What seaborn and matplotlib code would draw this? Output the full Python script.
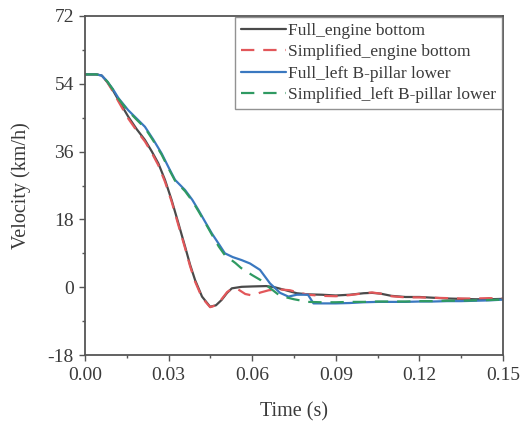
import numpy as np
import pandas as pd
import matplotlib
matplotlib.use("Agg")
import matplotlib.pyplot as plt
from matplotlib.ticker import MultipleLocator, FormatStrFormatter
import seaborn as sns

# Velocity histories (km/h) against time (s)
t_full_engine = [0, 0.004, 0.006, 0.008, 0.010, 0.012, 0.0155, 0.0185, 0.0215, 0.024,
                 0.0263, 0.0287, 0.0311, 0.0335, 0.0359, 0.0377, 0.0395, 0.042, 0.0449,
                 0.047, 0.049, 0.051, 0.0527, 0.0562, 0.060, 0.065, 0.068, 0.072, 0.076,
                 0.080, 0.085, 0.090, 0.095, 0.100, 0.103, 0.106, 0.110, 0.115, 0.120,
                 0.125, 0.130, 0.135, 0.140, 0.145, 0.150]
v_full_engine = [56.5, 56.5, 56.2, 54.5, 52.3, 49.7, 45.3, 42.0, 39.1, 36.0,
                 32.9, 28.5, 23.1, 17.0, 10.8, 6.0, 1.9, -2.5, -5.2,
                 -4.8, -3.4, -1.5, -0.3, 0.1, 0.2, 0.3, 0.0, -0.8, -1.6,
                 -1.9, -2.0, -2.2, -2.0, -1.6, -1.5, -1.7, -2.3, -2.6, -2.6,
                 -2.8, -3.0, -3.1, -3.2, -3.2, -3.1]

t_simp_engine = [0, 0.004, 0.006, 0.008, 0.010, 0.012, 0.0155, 0.0185, 0.0215, 0.024,
                 0.0263, 0.0287, 0.0311, 0.0335, 0.0359, 0.0377, 0.0395, 0.042, 0.0449,
                 0.047, 0.049, 0.051, 0.0527, 0.055, 0.0575, 0.060, 0.063, 0.066, 0.070,
                 0.0735, 0.077, 0.080, 0.085, 0.090, 0.095, 0.100, 0.103, 0.106, 0.110,
                 0.115, 0.120, 0.125, 0.130, 0.135, 0.140, 0.145, 0.150]
v_simp_engine = [56.5, 56.5, 56.2, 54.4, 52.0, 49.3, 44.8, 41.6, 38.7, 35.6,
                 32.4, 28.0, 22.7, 16.5, 10.4, 5.6, 1.5, -2.8, -5.3,
                 -4.8, -3.2, -1.3, -0.4, -0.6, -1.8, -2.2, -1.4, -0.8, -0.6,
                 -0.8, -1.5, -2.0, -2.3, -2.4, -2.1, -1.6, -1.4, -1.7, -2.4,
                 -2.7, -2.7, -2.8, -2.9, -3.0, -3.0, -2.9, -3.0]

t_full_pillar = [0, 0.004, 0.006, 0.008, 0.010, 0.012, 0.0155, 0.0185, 0.0215, 0.0245,
                 0.0275, 0.030, 0.0323, 0.0359, 0.0385, 0.0407, 0.043, 0.0455, 0.048,
                 0.0502, 0.053, 0.0562, 0.0592, 0.0628, 0.0664, 0.070, 0.073, 0.076,
                 0.080, 0.082, 0.085, 0.090, 0.095, 0.100, 0.105, 0.110, 0.115, 0.120,
                 0.125, 0.130, 0.135, 0.140, 0.145, 0.150]
v_full_pillar = [56.5, 56.5, 56.2, 54.6, 52.6, 50.2, 47.0, 44.8, 42.6, 39.2,
                 35.5, 31.8, 28.5, 25.8, 23.2, 20.5, 17.5, 14.3, 11.5,
                 9.0, 8.0, 7.2, 6.3, 4.6, 1.0, -1.5, -2.5, -2.0,
                 -2.0, -4.3, -4.3, -4.3, -4.2, -4.0, -3.9, -3.9, -3.9, -3.8,
                 -3.8, -3.7, -3.7, -3.6, -3.5, -3.3]

t_simp_pillar = [0, 0.004, 0.006, 0.008, 0.010, 0.012, 0.0155, 0.0185, 0.0215, 0.0245,
                 0.0275, 0.030, 0.0323, 0.0359, 0.0385, 0.0407, 0.043, 0.0455, 0.048,
                 0.0502, 0.054, 0.056, 0.060, 0.063, 0.066, 0.070, 0.075, 0.080,
                 0.085, 0.090, 0.095, 0.100, 0.105, 0.110, 0.115, 0.120, 0.125,
                 0.130, 0.135, 0.140, 0.145, 0.150]
v_simp_pillar = [56.5, 56.5, 56.2, 54.6, 52.5, 50.0, 46.8, 44.5, 42.3, 38.9,
                 35.2, 31.5, 28.3, 25.5, 22.9, 20.2, 17.3, 14.0, 10.8,
                 8.5, 6.4, 5.1, 3.2, 1.9, 0.0, -2.3, -3.2, -3.9,
                 -4.0, -4.0, -3.9, -3.9, -3.8, -3.8, -3.8, -3.7, -3.7,
                 -3.6, -3.6, -3.5, -3.4, -3.3]

labels = ["Full_engine bottom", "Simplified_engine bottom",
          "Full_left B-pillar lower", "Simplified_left B-pillar lower"]

x_ticks = [0.00, 0.03, 0.06, 0.09, 0.12, 0.15]
y_ticks = [-18, 0, 18, 36, 54, 72]

sns.set_style("ticks")
plt.rcParams["font.family"] = ["Liberation Serif", "DejaVu Serif"]
plt.rcParams["axes.unicode_minus"] = False
plt.rcParams["axes.edgecolor"] = "#555555"
plt.rcParams["xtick.color"] = "#555555"
plt.rcParams["ytick.color"] = "#555555"
plt.rcParams["xtick.labelcolor"] = "#3a3a3a"
plt.rcParams["ytick.labelcolor"] = "#3a3a3a"

fig = plt.figure(figsize=(5.23, 4.21), dpi=100)
ax = fig.add_axes([85 / 523, 1 - 355 / 421, 418 / 523, 339 / 421])

series = [
    (t_full_engine, v_full_engine, "#4a4a4a", "-"),
    (t_simp_engine, v_simp_engine, "#e2575a", (0, (6, 4))),
    (t_full_pillar, v_full_pillar, "#3a78c0", "-"),
    (t_simp_pillar, v_simp_pillar, "#2f9a62", (0, (6, 4))),
]
for (t, v, c, ls), lab in zip(series, labels):
    df = pd.DataFrame({"t": t, "v": v})
    sns.lineplot(data=df, x="t", y="v", ax=ax, color=c, linewidth=1.6,
                 linestyle=ls, label=lab, estimator=None, sort=False)

ax.set_xlim(0, 0.15)
ax.set_ylim(-18, 72)
ax.set_xticks(x_ticks)
ax.set_yticks(y_ticks)
ax.xaxis.set_major_formatter(FormatStrFormatter("%.2f"))
ax.xaxis.set_minor_locator(MultipleLocator(0.015))
ax.yaxis.set_minor_locator(MultipleLocator(9))
ax.tick_params(which="major", direction="out", length=4, width=1.0, labelsize=14)
ax.tick_params(axis="x", which="major", pad=5)
ax.tick_params(axis="y", which="major", pad=4)
ax.tick_params(which="minor", direction="out", length=2.5, width=1.0)
for s in ax.spines.values():
    s.set_visible(True)
    s.set_linewidth(1.3)

ax.set_xlabel("Time (s)", fontsize=14.5, color="#3a3a3a", labelpad=13)
ax.set_ylabel("Velocity (km/h)", fontsize=14.5, color="#3a3a3a", labelpad=12)

leg = ax.legend(loc="upper right", fontsize=12.5, frameon=True, fancybox=False,
                borderaxespad=0.05, handlelength=2.6, handletextpad=0.1,
                labelspacing=0.3, borderpad=0.35)
leg.get_frame().set_edgecolor("#777777")
leg.get_frame().set_linewidth(1.0)
for txt in leg.get_texts():
    txt.set_color("#3a3a3a")

fig.savefig("out.png", dpi=100)
